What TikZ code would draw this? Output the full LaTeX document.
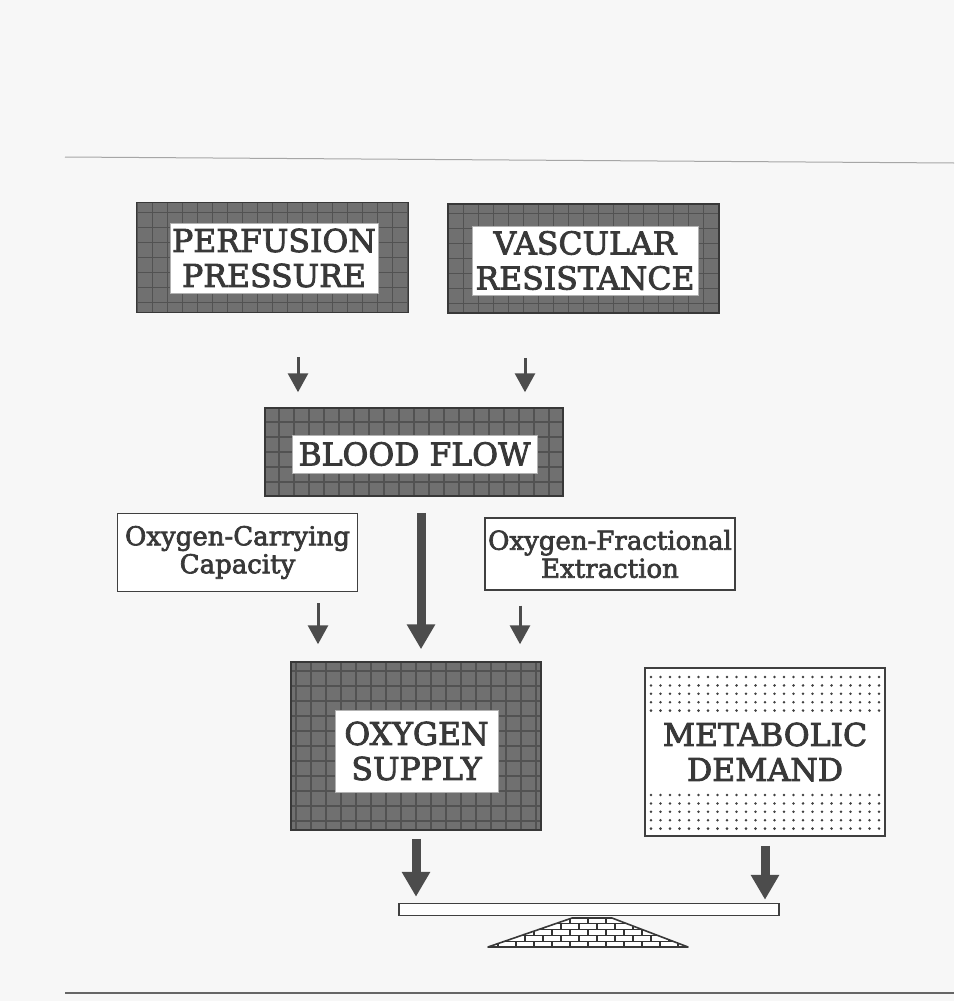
\documentclass[tikz,border=0pt]{standalone}
\usepackage{fontspec}
\setmainfont[FakeBold=2.6]{DejaVu Serif}
\usetikzlibrary{arrows.meta,calc}
\begin{document}
\begin{tikzpicture}[x=1pt,y=-1pt,
  darkbox/.style={draw=black!78, line width=1.5pt, fill=black!56, inner sep=0pt,
    path picture={\draw[black!68, line width=1.2pt] ([shift={(-2,2)}]path picture bounding box.south west) grid[step=15pt] ([shift={(2,-2)}]path picture bounding box.north east);}},
  innerbox/.style={fill=white, draw=black!30, line width=0.4pt, inner sep=0pt, align=center,
    font=\fontsize{31.5}{35}\selectfont, text=black!78},
  lightbox/.style={draw=black!75, line width=1.2pt, fill=white, inner sep=0pt, align=center,
    font=\fontsize{26}{28}\selectfont, text=black!78},
  thinarr/.style={draw=black!70, line width=3pt, -{Triangle[width=20pt,length=19pt]}},
  thickarr/.style={draw=black!70, line width=9pt, -{Triangle[width=27pt,length=25pt]}},
  brick/.style={draw=black!80, line width=1.1pt}
]
\useasboundingbox (0,0) rectangle (954,1001);
\fill[black!3] (0,0) rectangle (954,1001);
% page rules
\draw[black!35, line width=1pt] (65,157) -- (954,163);
\draw[black!60, line width=1.3pt] (65,993) -- (954,993);

% top boxes
\node[darkbox, minimum width=272pt, minimum height=110pt] (pp) at (272.5,257.5) {};
\node[innerbox, minimum width=208pt, minimum height=70pt] (ppt) at (274,258) {PERFUSION\\PRESSURE};
\node[darkbox, minimum width=271pt, minimum height=109pt] (vr) at (583.5,258.5) {};
\node[innerbox, minimum width=226pt, minimum height=69pt] (vrt) at (585,260.5) {VASCULAR\\RESISTANCE};

% blood flow
\node[darkbox, minimum width=298pt, minimum height=88pt] (bf) at (414,452) {};
\node[innerbox, minimum width=245pt, minimum height=38pt] (bft) at (414.5,454) {BLOOD FLOW};

% light boxes
\node[lightbox, minimum width=240pt, minimum height=78pt] (occ) at (237.5,552.5) {Oxygen-Carrying\\Capacity};
\node[lightbox, minimum width=250pt, minimum height=72pt] (ofe) at (610,554) {Oxygen-Fractional\\Extraction};

% oxygen supply
\node[darkbox, minimum width=250pt, minimum height=168pt] (os) at (416,746) {};
\node[innerbox, minimum width=163pt, minimum height=82pt] (ost) at (416.5,751) {OXYGEN\\SUPPLY};

% metabolic demand
\node[draw=black!75, line width=1.5pt, fill=white, minimum width=240pt, minimum height=168pt, inner sep=0pt] (md) at (765,752) {};
\foreach \r in {0,...,4}
  \foreach \c in {0,...,24} {
    \fill[black!75] (651+\c*9.5, 677+\r*8.4) circle (1.4pt);
    \fill[black!75] (651+\c*9.5, 795+\r*8.4) circle (1.4pt);
  }
\node[inner sep=0pt, align=center, font=\fontsize{31.5}{35}\selectfont, text=black!78] (mdt) at (765,752) {METABOLIC\\DEMAND};

% balance beam
\node[draw=black!75, line width=1.5pt, fill=white, minimum width=380pt, minimum height=12pt, inner sep=0pt] (beam) at (589,909.5) {};
\begin{scope}
  \clip (488,947) -- (572,918) -- (612,918) -- (688,947) -- cycle;
  \fill[white] (480,915) rectangle (700,950);
  \foreach \k in {1,...,4}
    \draw[brick] (480,918+\k*5.8) -- (700,918+\k*5.8);
  \foreach \k [evaluate=\k as \off using {mod(\k,2)*9}] in {0,...,4}
    \foreach \i in {0,...,12}
      \draw[brick] (480+\i*18+\off, 918+\k*5.8) -- ++(0,5.8);
\end{scope}
\draw[black!78, line width=1.6pt, line join=round] (488,947) -- (572,918) -- (612,918) -- (688,947) -- cycle;

% arrows
\draw[thinarr] ($(pp.south)+(25.5,44)$) -- ($(bf.north)+(-116,-15)$);
\draw[thinarr] ($(vr.south)+(-58.5,44)$) -- ($(bf.north)+(111,-15)$);
\draw[thickarr] ($(bf.south)+(7,16)$) -- ($(os.north)+(5,-12)$);
\draw[thinarr] ($(occ.south)+(80.5,11)$) -- ($(os.north)+(-98,-17)$);
\draw[thinarr] ($(ofe.south)+(-90,15)$) -- ($(os.north)+(104,-17)$);
\draw[thickarr] ($(os.south)+(0,8)$) -- ($(beam.north)+(-173,-6)$);
\draw[thickarr] ($(md.south)+(0,9)$) -- ($(beam.north)+(176,-3)$);
\end{tikzpicture}
\end{document}
